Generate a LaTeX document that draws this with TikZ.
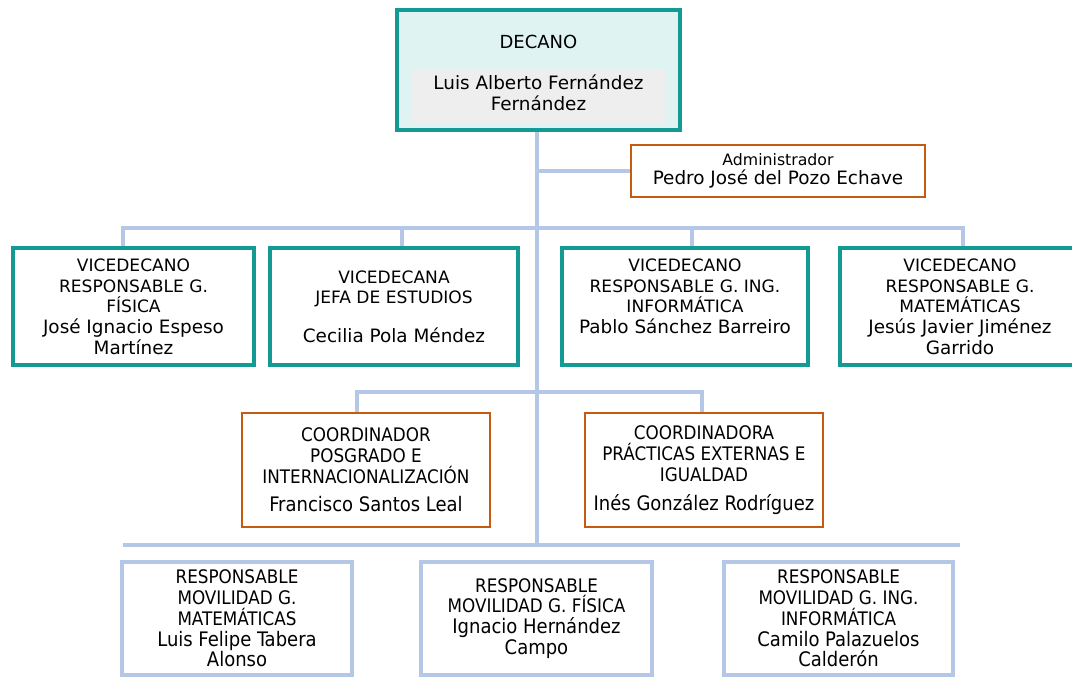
\documentclass[tikz,border=0pt]{standalone}
\usepackage{fontspec}
\setmainfont{DejaVu Sans}
\newfontfamily\condfont{DejaVu Sans Condensed}
\definecolor{teal1}{RGB}{19,154,148}
\definecolor{tealfill}{RGB}{223,243,243}
\definecolor{grisfill}{RGB}{238,238,238}
\definecolor{naranja}{RGB}{197,90,17}
\definecolor{azulclaro}{RGB}{180,199,231}
\newcommand{\tit}{\fontsize{12.8}{15.5}\selectfont}
\newcommand{\nom}{\fontsize{13.8}{15.5}\selectfont}
\newcommand{\ctit}{\fontsize{14}{15.6}\selectfont}
\newcommand{\cnom}{\fontsize{15}{15.6}\selectfont}
\tikzset{
  vicebox/.style={draw=teal1, line width=3pt, fill=white, align=center, inner sep=0pt, minimum height=87.75pt, font=\tit},
  coordbox/.style={draw=naranja, line width=1.8pt, fill=white, align=center, inner sep=0pt, minimum height=85.5pt, font={\condfont\ctit}},
  movbox/.style={draw=azulclaro, line width=3pt, fill=white, align=center, inner sep=0pt, minimum height=84.75pt, font={\condfont\ctit}},
  linea/.style={draw=azulclaro, line width=3.6pt}
}
\begin{document}
\begin{tikzpicture}[x=0.75pt,y=-0.75pt]
\useasboundingbox (0,0) rectangle (1072,678);
\clip (0,0) rectangle (1072,678);
% decano
\node[draw=teal1, line width=3pt, fill=tealfill, minimum width=212.25pt, minimum height=90pt] (decano) at (538.5,70) {};
\node[fill=grisfill, minimum width=189.75pt, minimum height=39.75pt, inner sep=0pt] (gris) at (538.5,96.5) {};
\node[font=\fontsize{13.5}{15.5}\selectfont] (tdecano) at (538.5,42) {DECANO};
\node[font=\nom, align=center] (ndecano) at (538.5,93) {Luis Alberto Fernández\\Fernández};
% administrador
\node[draw=naranja, line width=1.8pt, fill=white, minimum width=220.5pt, minimum height=39pt, align=center, inner sep=0pt] (admin) at (778,171)
  {{\fontsize{11.8}{15.5}\selectfont Administrador}\\[2pt]{\nom Pedro José del Pozo Echave}};
% vicedecanos
\node[vicebox, minimum width=180.75pt] (vp1) at (133.5,306.5)
  {VICEDECANO\\RESPONSABLE G.\\FÍSICA\\{\nom José Ignacio Espeso}\\{\nom Martínez}};
\node[vicebox, minimum width=186pt] (vp2) at (394,306.5)
  {VICEDECANA\\JEFA DE ESTUDIOS\\[13.5pt]{\nom Cecilia Pola Méndez}};
\node[vicebox, minimum width=184.5pt] (vp3) at (685,306.5)
  {VICEDECANO\\RESPONSABLE G. ING.\\INFORMÁTICA\\{\nom Pablo Sánchez Barreiro}\\\mbox{}};
\node[vicebox, minimum width=180pt] (vp4) at (960,306.5)
  {VICEDECANO\\RESPONSABLE G.\\MATEMÁTICAS\\{\nom Jesús Javier Jiménez}\\{\nom Garrido}};
% coordinadores
\node[coordbox, minimum width=186pt] (co1) at (366,470)
  {COORDINADOR\\POSGRADO E\\INTERNACIONALIZACIÓN\\[6pt]{\cnom Francisco Santos Leal}};
\node[coordbox, minimum width=178.5pt] (co2) at (704,470)
  {COORDINADORA\\PRÁCTICAS EXTERNAS E\\IGUALDAD\\[6pt]{\cnom Inés González Rodríguez}};
% movilidad
\node[movbox, minimum width=172.5pt] (mo1) at (237,618.5)
  {RESPONSABLE\\MOVILIDAD G.\\MATEMÁTICAS\\{\cnom Luis Felipe Tabera}\\{\cnom Alonso}};
\node[movbox, minimum width=173.25pt] (mo2) at (536.5,618.5)
  {RESPONSABLE\\MOVILIDAD G. FÍSICA\\{\cnom Ignacio Hernández}\\{\cnom Campo}};
\node[movbox, minimum width=171.75pt] (mo3) at (838.5,618.5)
  {RESPONSABLE\\MOVILIDAD G. ING.\\INFORMÁTICA\\{\cnom Camilo Palazuelos}\\{\cnom Calderón}};
% conectores
\coordinate (tronco) at (537,545);
\coordinate (ad) at (537,171);
\coordinate (d1) at (123,228);
\coordinate (d2) at (402,228);
\coordinate (d3) at (692,228);
\coordinate (d4) at (963,228);
\coordinate (c1) at (357,392);
\coordinate (c2) at (702,392);
\coordinate (m1) at (123,545);
\coordinate (m2) at (960,545);
\draw[linea] (decano.south -| tronco) -- (tronco);
\draw[linea] (ad) -- (admin.west);
\draw[linea] (d1 |- vp1.north) -- (d1) -- (d4) -- (d4 |- vp4.north);
\draw[linea] (d2) -- (d2 |- vp2.north);
\draw[linea] (d3) -- (d3 |- vp3.north);
\draw[linea] (c1 |- co1.north) -- (c1) -- (c2) -- (c2 |- co2.north);
\draw[linea] (m1) -- (m2);
\end{tikzpicture}
\end{document}
